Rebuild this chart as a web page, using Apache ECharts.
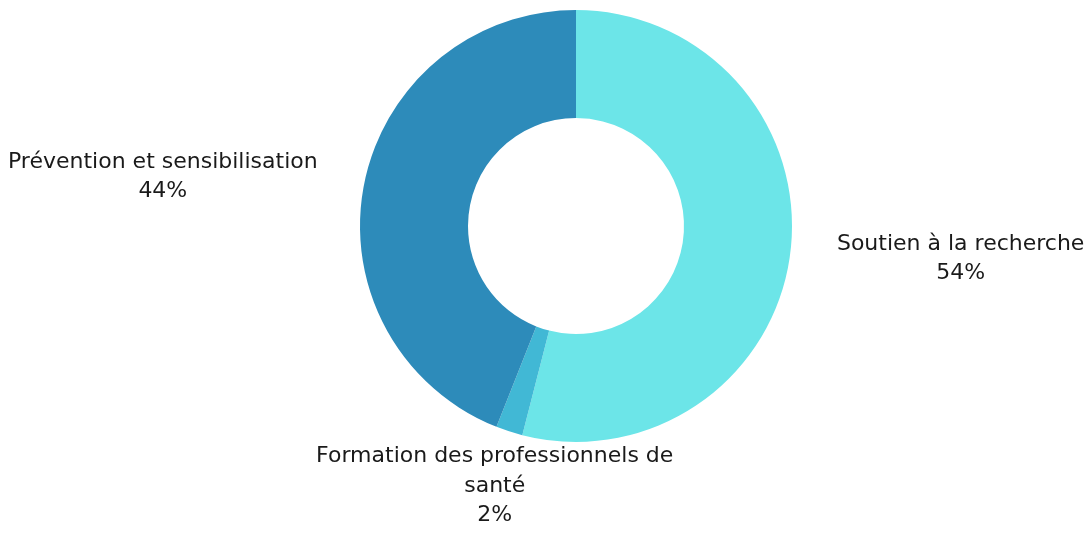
<!DOCTYPE html>
<html>
<head>
<meta charset="utf-8">
<script src="https://cdn.jsdelivr.net/npm/echarts@6/dist/echarts.min.js"></script>
<style>
    html, body { margin: 0; padding: 0; background: #fff; }
    #main { width: 1087px; height: 533px; }
</style>
</head>
<body>
<div id="main"></div>
<script>
// categories and shares (percent)
var categories = ['Soutien à la recherche', 'Formation des professionnels de santé', 'Prévention et sensibilisation'];
var values = [54, 2, 44];
var colors = ['#6ce5e8', '#41b8d5', '#2d8bba'];

var FONT_FAMILY = 'DejaVu Sans';
var FONT_SIZE = 22;
var MAX_LABEL_WIDTH = 390;

// simple word wrap, measured with canvas
var measureCtx = document.createElement('canvas').getContext('2d');
measureCtx.font = FONT_SIZE + 'px "' + FONT_FAMILY + '"';
function wrapText(text, maxWidth) {
    var words = text.split(' ');
    var lines = [];
    var cur = '';
    words.forEach(function(w) {
        var test = cur ? cur + ' ' + w : w;
        if (cur && measureCtx.measureText(test).width > maxWidth) {
            lines.push(cur);
            cur = w;
        } else {
            cur = test;
        }
    });
    if (cur) {
        lines.push(cur);
    }
    return lines;
}

var myChart = echarts.init(document.getElementById('main'));

var seriesData = [];
categories.forEach(function(name, i) {
    seriesData.push({ name: name, value: values[i], itemStyle: { color: colors[i] } });
});

var option = {
    backgroundColor: '#ffffff',
    series: [{
        type: 'pie',
        center: [576, 226],
        radius: [108, 216],
        startAngle: 90,
        clockwise: true,
        avoidLabelOverlap: false,
        data: seriesData,
        label: {
            show: true,
            position: 'outside',
            distanceToLabelLine: 0,
            formatter: function(p) {
                var lines = wrapText(p.name, MAX_LABEL_WIDTH);
                lines.push(p.percent + '%');
                return lines.map(function(l) {
                    return '{n|' + l + '}';
                }).join('\n');
            },
            rich: {
                n: {
                    align: 'center',
                    fontFamily: FONT_FAMILY,
                    fontSize: FONT_SIZE,
                    lineHeight: 29.5,
                    color: '#1a1a1a'
                }
            }
        },
        labelLine: {
            show: false,
            length: 47,
            length2: 0
        },
        labelLayout: function(params) {
            var pts = params.labelLinePoints;
            if (!pts) {
                return {};
            }
            var dx = pts[1][0] - pts[0][0];
            var dy = pts[1][1] - pts[0][1];
            var len = Math.sqrt(dx * dx + dy * dy) || 1;
            // labels near the bottom sit centred under the ring
            if (Math.abs(dx / len) < 0.5) {
                return {
                    x: pts[1][0],
                    y: pts[0][1] + 14 + params.labelRect.height / 2,
                    align: 'center',
                    verticalAlign: 'middle'
                };
            }
            return {};
        },
        emphasis: { disabled: true }
    }]
};

myChart.setOption(option);
</script>
</body>
</html>
